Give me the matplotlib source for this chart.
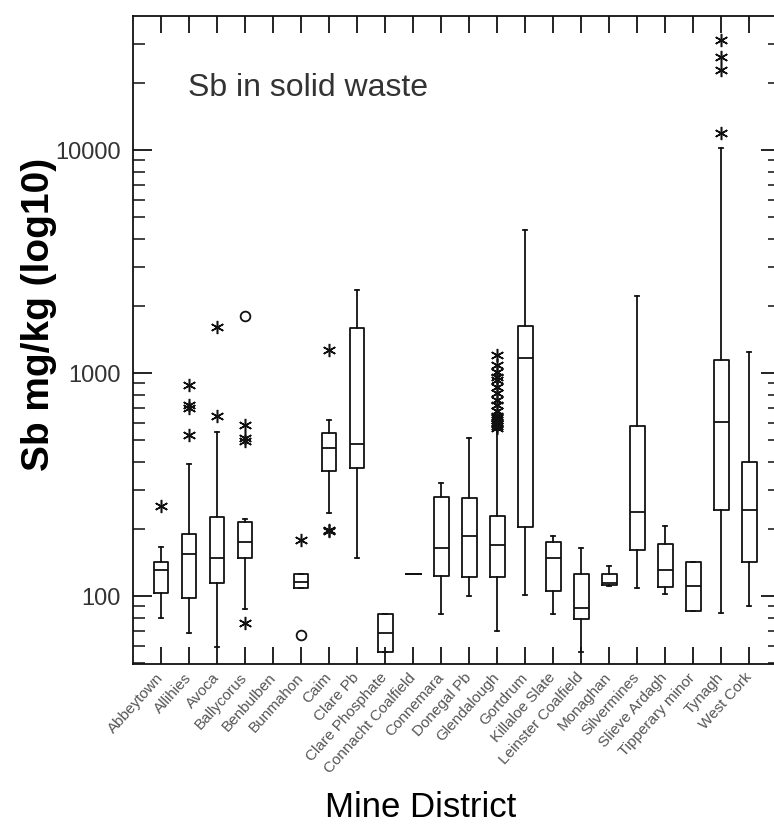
import numpy as np
import matplotlib.pyplot as plt
from matplotlib.ticker import LogLocator, NullFormatter

plt.rc('font', family=['Liberation Sans', 'DejaVu Sans'])

districts = ['Abbeytown', 'Allihies', 'Avoca', 'Ballycorus', 'Benbulben',
             'Bunmahon', 'Caim', 'Clare Pb', 'Clare Phosphate',
             'Connacht Coalfield', 'Connemara', 'Donegal Pb', 'Glendalough',
             'Gortdrum', 'Killaloe Slate', 'Leinster Coalfield', 'Monaghan',
             'Silvermines', 'Slieve Ardagh', 'Tipperary minor', 'Tynagh',
             'West Cork']

# box statistics, Sb mg/kg (None = no samples)
medians = [131, 154, 148.5, 174, None, 116, 460, 480, 68, 125, 164, 186,
           170, 1171, 148.5, 88, 114.7, 238, 131, 111, 601, 243]
q1 = [103.5, 97.7, 115, 147.6, None, 108.3, 365, 374, 56, 125, 123, 122,
      122, 205, 105.6, 78.8, 112, 161, 109.4, 86, 243, 141.6]
q3 = [141.6, 189, 227, 214, None, 125, 540, 1586, 83, 125, 279, 274,
      228, 1625, 174, 125, 125, 579, 170.5, 141.6, 1144, 398]
whisker_lo = [79.4, 68.4, 59.3, 87.5, None, 108.3, 237, 147.6, 56, 125,
              82.8, 100, 70, 101, 82.8, 55.9, 110.9, 108.3, 101.8, 86,
              83.6, 90.2]
whisker_hi = [166, 391, 545, 221.5, None, 125, 616, 2357, 83, 125, 323,
              513, 555, 4378, 186, 165, 136, 2215, 206, 141.6, 10240, 1238]

# outside values (asterisks) and far outside values (circles)
outside = [[253], [883, 720, 700, 527], [1613, 643], [585, 510, 495, 75.4],
           [], [178], [1268, 198, 196], [], [], [], [], [],
           [1204, 1085, 1010, 960, 933, 866, 812, 756, 719, 675, 641, 628,
            615, 600, 590, 578, 567],
           [], [], [], [], [], [], [], [31100, 26170, 22850, 11880], []]
far_outside = [[], [], [], [1801], [], [66.9], [], [], [], [], [], [], [],
               [], [], [], [], [], [], [], [], []]

ink = '#111111'

fig = plt.figure(figsize=(7.74, 8.30), dpi=100)
ax = fig.add_axes([133/774, 1 - 664/830, 647/774, 648/830])

stats, positions = [], []
for i in range(len(districts)):
    if medians[i] is None:
        continue
    stats.append(dict(med=medians[i], q1=q1[i], q3=q3[i],
                      whislo=whisker_lo[i], whishi=whisker_hi[i],
                      fliers=outside[i]))
    positions.append(i)

line = dict(color=ink, linewidth=1.3)
ax.bxp(stats, positions=positions, widths=0.53, capwidths=0.16,
       boxprops=line, whiskerprops=line, capprops=line, medianprops=line,
       flierprops=dict(marker=(6, 2, 0), markersize=9.5, markeredgecolor=ink,
                       markeredgewidth=1.1, linestyle='none'))

for i, vals in enumerate(far_outside):
    if vals:
        ax.plot([i]*len(vals), vals, 'o', ms=7, mfc='none', mec=ink, mew=1.3)

ax.set_yscale('log')
ax.set_ylim(49.6, 39900)
ax.set_xlim(-1, 22.1)
ax.set_yticks([100, 1000, 10000])
ax.set_yticklabels(['100', '1000', '10000'])
ax.yaxis.set_minor_locator(LogLocator(subs=np.arange(2, 10)))
ax.yaxis.set_minor_formatter(NullFormatter())

ax.set_xticks(range(len(districts)))
ax.set_xticklabels(districts, rotation=48, ha='right', va='center',
                   rotation_mode='anchor', fontsize=11, color='#555555')

ax.tick_params(axis='x', direction='in', top=True, length=12, width=1.3,
               pad=8, color=ink)
ax.tick_params(axis='y', which='major', direction='in', right=True,
               length=13.7, width=1.3, pad=9, labelsize=17,
               labelcolor='#333333', color=ink)
ax.tick_params(axis='y', which='minor', direction='in', right=True,
               length=8.5, width=1.1, color=ink)
for sp in ax.spines.values():
    sp.set_linewidth(1.3)
    sp.set_color(ink)

ax.set_ylabel('Sb mg/kg (log10)', fontsize=28, fontweight='bold')
ax.yaxis.set_label_coords(-0.117, 0.54)
ax.set_xlabel('Mine District', fontsize=25, va='center')
ax.xaxis.set_label_coords(0.445, -0.222)

ax.text(188/774, 1 - 88/830, 'Sb in solid waste', transform=fig.transFigure,
        ha='left', va='center', fontsize=23, color='#333333')

fig.savefig('out.png', dpi=100)
